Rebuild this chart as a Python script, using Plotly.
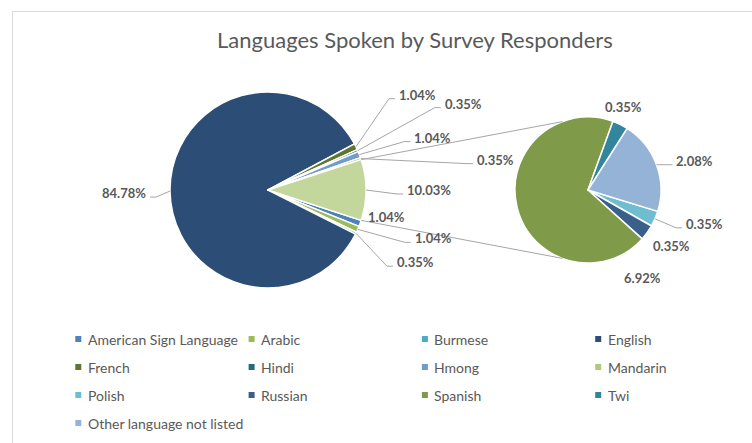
import math
import plotly.graph_objects as go

# ---------------- data ----------------
languages = ["American Sign Language", "Arabic", "Burmese", "English", "French",
             "Hindi", "Hmong", "Mandarin", "Polish", "Russian", "Spanish", "Twi",
             "Other language not listed"]
share_pct = [1.04, 1.04, 0.35, 84.78, 1.04, 0.35, 1.04, 0.35,
             0.35, 0.35, 6.92, 0.35, 2.08]
second_pie_languages = ["Polish", "Russian", "Spanish", "Twi", "Other language not listed"]
combined_slice_pct = 10.03   # label shown on the combined slice of the main pie

title_text = "Languages Spoken by Survey Responders"

# ---------------- style ----------------
colors = {
    "American Sign Language": "#4F81BD", "Arabic": "#9BBB59", "Burmese": "#4BACC6",
    "English": "#2C4D75", "French": "#5F7530", "Hindi": "#276A7C",
    "Hmong": "#729ACA", "Mandarin": "#AFC97A", "Polish": "#6FBDD1",
    "Russian": "#3A5F8B", "Spanish": "#7F9A48", "Twi": "#31859C",
    "Other language not listed": "#95B3D7",
}
# label placement relative to the slice anchor (pixels): dx, dy, side, leader
label_style = {
    "American Sign Language": (6, -6, 1, False),
    "Arabic": (55, 9, 1, True),
    "Burmese": (39, 29, 1, True),
    "English": (-22, 2, -1, True),
    "French": (41, -52, 1, True),
    "Hindi": (85, -47, 1, True),
    "Hmong": (53, -17, 1, True),
    "Mandarin": (114, 1, 1, True),
    "__combined__": (39, 0, 1, True),
    "Polish": (29, 5, 1, True),
    "Russian": (4, 13, 1, False),
    "Spanish": (105, 70, 1, False),
    "Twi": (-17, -18, 1, False),
    "Other language not listed": (18, -4, 1, True),
}
W, H = 752, 443
MAIN_C, MAIN_R = (268, 190), 98
SEC_C, SEC_R = (588, 190), 73
SEC_ROTATION = 107
CONNECTOR_TILT = 20.5
GRAY_TEXT = "#595959"
LINE_GRAY = "#A6A6A6"
FONT = "Lato"


def px(x):
    return x / W


def py(y):
    return 1 - y / H


# ---------------- split into main / secondary pie ----------------
main_labels = [l for l in languages if l not in second_pie_languages]
main_values = [share_pct[languages.index(l)] for l in main_labels] + [combined_slice_pct]
sec_labels = [l for l in languages if l in second_pie_languages]
sec_values = [share_pct[languages.index(l)] for l in sec_labels]

main_total = sum(main_values)
half_comb = combined_slice_pct / main_total * 360 / 2
main_rotation = 90 + half_comb

fig = go.Figure()
fig.add_trace(go.Pie(
    labels=main_labels + ["Combined"], values=main_values, sort=False,
    direction="clockwise", rotation=main_rotation, textinfo="none",
    marker=dict(colors=[colors[l] for l in main_labels] + ["#C3D69B"],
                line=dict(color="white", width=1.5)),
    domain=dict(x=[px(MAIN_C[0] - MAIN_R), px(MAIN_C[0] + MAIN_R)],
                y=[py(MAIN_C[1] + MAIN_R), py(MAIN_C[1] - MAIN_R)]),
    showlegend=False, hoverinfo="label+percent"))
fig.add_trace(go.Pie(
    labels=sec_labels, values=sec_values, sort=False,
    direction="clockwise", rotation=SEC_ROTATION, textinfo="none",
    marker=dict(colors=[colors[l] for l in sec_labels],
                line=dict(color="white", width=1.5)),
    domain=dict(x=[px(SEC_C[0] - SEC_R), px(SEC_C[0] + SEC_R)],
                y=[py(SEC_C[1] + SEC_R), py(SEC_C[1] - SEC_R)]),
    showlegend=False, hoverinfo="label+value"))


def point(center, r, ang):
    a = math.radians(ang)
    return center[0] + r * math.sin(a), center[1] - r * math.cos(a)


shapes, annotations = [], []


def add_label(key, text, anchor):
    dx, dy, side, leader = label_style[key]
    tx, ty = anchor[0] + dx, anchor[1] + dy
    annotations.append(dict(
        x=px(tx), y=py(ty), xref="paper", yref="paper", text=text,
        showarrow=False, xanchor="left" if side > 0 else "right", yanchor="middle",
        font=dict(family=FONT, size=13, color=GRAY_TEXT, weight="bold")))
    if leader:
        ex, ey = tx - 2 * side, ty + 4
        elx = tx - 8 * side
        path = "M {} {} L {} {} L {} {}".format(
            px(anchor[0]), py(anchor[1]), px(elx), py(ey), px(ex), py(ey))
        shapes.append(dict(type="path", path=path, xref="paper", yref="paper",
                           line=dict(color=LINE_GRAY, width=1), layer="above"))


# main pie labels
ang = main_rotation
for lab, v in zip(main_labels + ["__combined__"], main_values):
    span = v / main_total * 360
    mid = ang + span / 2
    anchor = point(MAIN_C, MAIN_R, mid)
    add_label(lab, "{:.2f}%".format(v), anchor)
    ang += span

# secondary pie labels
sec_total = sum(sec_values)
ang = SEC_ROTATION
for lab, v in zip(sec_labels, sec_values):
    span = v / sec_total * 360
    mid = ang + span / 2
    anchor = point(SEC_C, SEC_R, mid)
    add_label(lab, "{:.2f}%".format(v), anchor)
    ang += span

# connector lines between the combined slice and the secondary pie
for sgn in (-1, 1):
    p0 = point(MAIN_C, MAIN_R, 90 + sgn * half_comb)
    p1 = point(SEC_C, SEC_R, (0 - CONNECTOR_TILT) if sgn < 0 else (180 + CONNECTOR_TILT))
    shapes.append(dict(type="line", xref="paper", yref="paper",
                       x0=px(p0[0]), y0=py(p0[1]), x1=px(p1[0]), y1=py(p1[1]),
                       line=dict(color=LINE_GRAY, width=1), layer="above"))

# chart-area frame
shapes.append(dict(type="rect", xref="paper", yref="paper",
                   x0=px(12.5), y0=py(11.5), x1=px(800), y1=py(480),
                   line=dict(color="#D9D9D9", width=1), layer="below"))

# legend (4 columns, row-major)
for i, lab in enumerate(languages):
    col, row = i % 4, i // 4
    mx, my = 78.3 + 173.3 * col, 339 + 28 * row
    shapes.append(dict(type="rect", xref="paper", yref="paper",
                       x0=px(mx - 3), x1=px(mx + 3), y0=py(my + 3), y1=py(my - 3),
                       fillcolor=colors[lab], line=dict(width=0)))
    annotations.append(dict(x=px(mx + 7.5), y=py(my), xref="paper", yref="paper",
                            text=lab, showarrow=False, xanchor="left", yanchor="middle",
                            font=dict(family=FONT, size=14, color=GRAY_TEXT)))

annotations.append(dict(x=px(415), y=py(40), xref="paper", yref="paper",
                        text=title_text, showarrow=False, xanchor="center",
                        yanchor="middle",
                        font=dict(family=FONT, size=22, color=GRAY_TEXT)))

fig.update_layout(width=W, height=H, autosize=False,
                  margin=dict(l=0, r=0, t=0, b=0),
                  paper_bgcolor="white", plot_bgcolor="white",
                  shapes=shapes, annotations=annotations)
fig.write_html("out.html", config={"displayModeBar": False},
               post_script="document.body.style.margin='0';"
                           "document.body.style.overflow='hidden';")
